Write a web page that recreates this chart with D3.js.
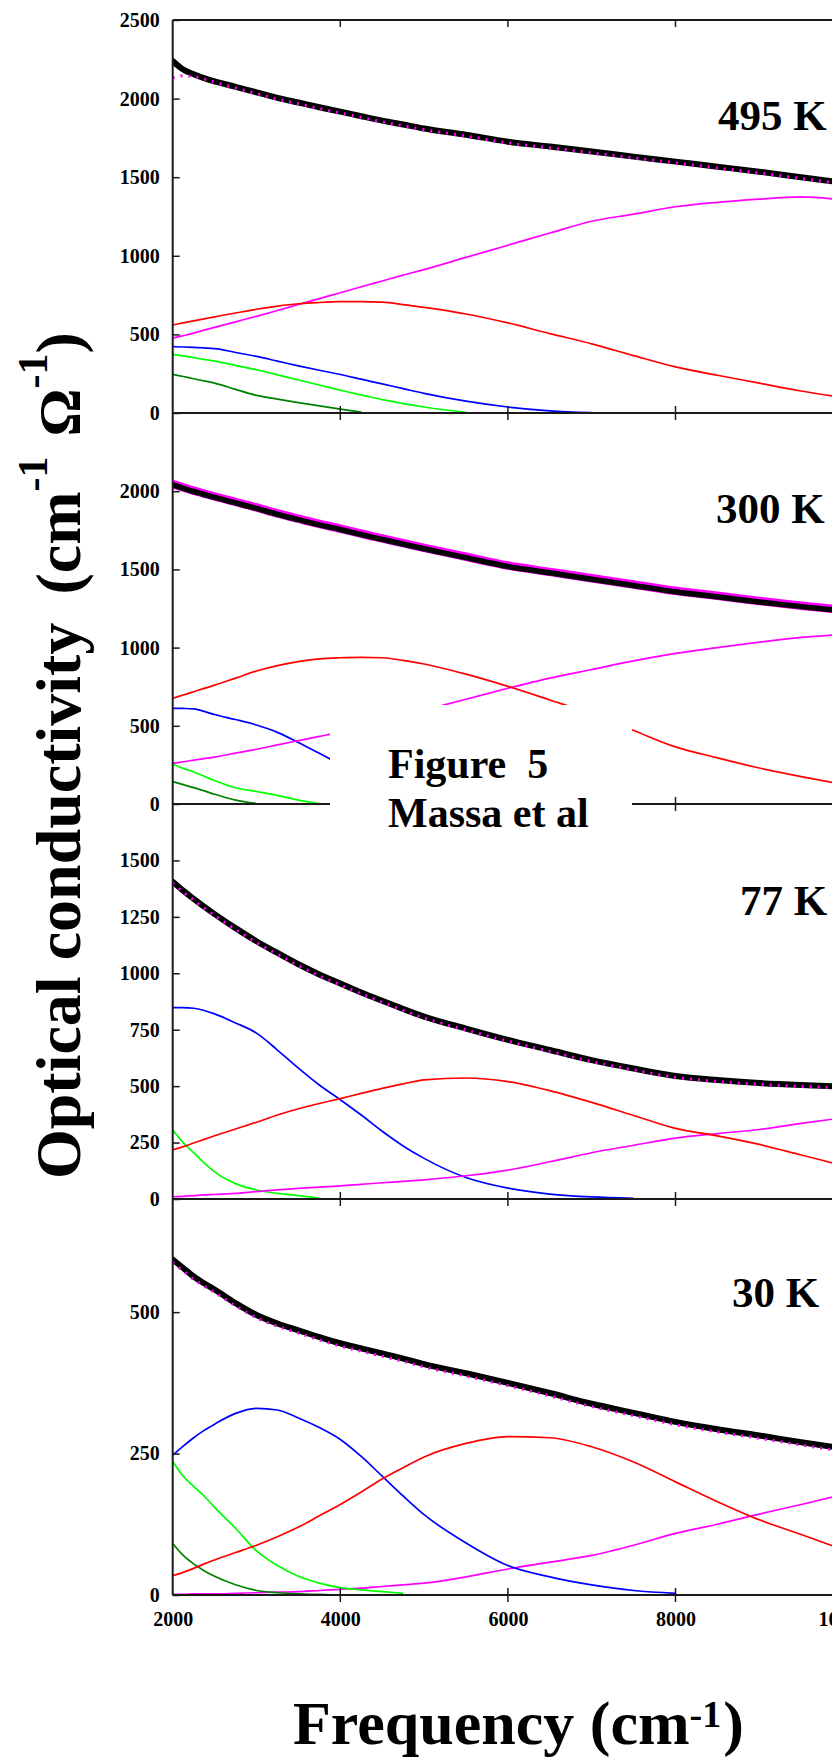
<!DOCTYPE html>
<html>
<head>
<meta charset="utf-8">
<script src="https://cdn.jsdelivr.net/npm/d3@7"></script>
<style>
  html, body { margin: 0; padding: 0; background: #fff; }
  svg { display: block; }
  text { font-family: "Liberation Serif", "Times New Roman", serif; font-weight: bold; fill: #000; }
</style>
</head>
<body>
<svg id="chart" width="832" height="1760"></svg>
<script>
// Frequency grid (cm^-1) shared by every curve; null = component not drawn there
const frequencies = [2000, 2125, 2250, 2375, 2500, 2750, 3000, 3250, 3500, 3750, 4000, 4250, 4500,
                     4750, 5000, 5500, 6000, 6500, 7000, 7500, 8000, 8500, 9000, 9500, 10000];

const temperatures = ["495 K", "300 K", "77 K", "30 K"];
const yMaxima = [2500, 2500, 1750, 700];
const yTickValues = [
  [0, 500, 1000, 1500, 2000, 2500],
  [0, 500, 1000, 1500, 2000],
  [0, 250, 500, 750, 1000, 1250, 1500],
  [0, 250, 500]
];
const xTickValues = [2000, 4000, 6000, 8000, 10000];

// ---- 495 K ----
const measured495 = [2239, 2185, 2155, 2130, 2110, 2075, 2040, 2005, 1975, 1945, 1917, 1888, 1860, 1835, 1810, 1770, 1726, 1695, 1663, 1631, 1599, 1567, 1535, 1500, 1465];
const fit495      = [2131, 2145, 2140, 2125, 2105, 2067, 2032, 1997, 1967, 1937, 1909, 1880, 1852, 1827, 1802, 1762, 1718, 1687, 1655, 1623, 1591, 1559, 1527, 1492, 1457];
const red495      = [560, 573, 586, 599, 612, 636, 660, 680, 695, 703, 708, 709, 705, 690, 672, 630, 573, 505, 440, 365, 293, 240, 190, 140, 98];
const magenta495  = [477, 492, 508, 527, 545, 580, 615, 652, 690, 728, 765, 803, 840, 877, 912, 990, 1067, 1145, 1220, 1265, 1312, 1340, 1360, 1375, 1355];
const blue495     = [422, 420, 417, 414, 410, 385, 360, 330, 300, 272, 245, 215, 185, 155, 125, 75, 38, 14, 2, null, null, null, null, null, null];
const green495    = [373, 363, 352, 341, 330, 303, 275, 243, 210, 178, 145, 115, 85, 60, 38, 4, null, null, null, null, null, null, null, null, null];
const dkgreen495  = [246, 232, 218, 204, 190, 150, 112, 88, 66, 45, 25, 5, null, null, null, null, null, null, null, null, null, null, null, null, null];

// ---- 300 K ----
const measured300 = [2040, 2018, 1998, 1979, 1960, 1925, 1890, 1852, 1818, 1785, 1755, 1722, 1692, 1662, 1632, 1575, 1519, 1478, 1437, 1397, 1357, 1325, 1292, 1262, 1235];
const fit300      = [2046, 2024, 2004, 1985, 1966, 1931, 1896, 1858, 1824, 1791, 1761, 1728, 1698, 1668, 1638, 1581, 1525, 1484, 1443, 1403, 1363, 1331, 1298, 1268, 1241];
const red300      = [676, 697, 718, 739, 760, 805, 850, 885, 910, 928, 935, 938, 935, 918, 895, 830, 752, 665, 575, 470, 365, 295, 230, 175, 125];
const magenta300  = [260, 270, 280, 290, 300, 325, 350, 378, 405, 432, 460, 495, 530, 565, 600, 670, 740, 805, 860, 915, 963, 1000, 1035, 1065, 1085];
const blue300     = [612, 611, 608, 592, 572, 540, 505, 458, 393, 324, 255, 200, 155, 120, 88, 45, 18, 5, 1, null, null, null, null, null, null];
const green300    = [254, 228, 205, 177, 150, 104, 80, 55, 25, 2, null, null, null, null, null, null, null, null, null, null, null, null, null, null, null];
const dkgreen300  = [143, 124, 105, 84, 62, 25, 3, null, null, null, null, null, null, null, null, null, null, null, null, null, null, null, null, null, null];

// ---- 77 K ----
const measured77 = [1406, 1366, 1330, 1295, 1262, 1200, 1142, 1090, 1040, 995, 955, 915, 878, 842, 808, 755, 705, 660, 615, 578, 545, 527, 514, 505, 498];
const fit77      = [1400, 1360, 1324, 1289, 1256, 1194, 1136, 1084, 1034, 989, 949, 909, 872, 836, 802, 749, 699, 654, 609, 572, 539, 521, 508, 499, 492];
const red77      = [217, 232, 248, 264, 280, 310, 340, 372, 400, 423, 445, 468, 490, 510, 528, 536, 520, 480, 428, 370, 313, 280, 242, 195, 148];
const magenta77  = [10, 12, 15, 18, 20, 25, 33, 40, 47, 53, 58, 65, 72, 78, 85, 103, 128, 165, 205, 238, 270, 290, 308, 335, 360];
const blue77     = [848, 848, 845, 835, 820, 780, 735, 660, 580, 505, 440, 372, 300, 235, 180, 95, 48, 22, 9, 3, null, null, null, null, null];
const green77    = [306, 250, 205, 160, 120, 68, 40, 25, 15, 3, null, null, null, null, null, null, null, null, null, null, null, null, null, null, null];
const dkgreen77  = frequencies.map(() => null);

// ---- 30 K ----
const measured30 = [593, 578, 563, 551, 540, 516, 495, 480, 468, 456, 445, 436, 427, 418, 408, 392, 375, 357, 338, 322, 306, 293, 282, 270, 259];
const fit30      = [588, 573, 558, 546, 535, 511, 490, 475, 463, 451, 440, 431, 422, 413, 403, 387, 370, 352, 333, 317, 301, 288, 277, 265, 254];
const red30      = [34, 40, 47, 55, 62, 75, 88, 103, 120, 140, 160, 182, 205, 225, 244, 268, 280, 278, 262, 235, 200, 165, 133, 107, 80];
const magenta30  = [1, 1, 2, 2, 2, 3, 4, 5, 6, 8, 10, 12, 15, 18, 21, 32, 46, 58, 70, 88, 109, 125, 143, 160, 178];
const blue30     = [247, 263, 278, 291, 302, 321, 330, 327, 313, 296, 275, 245, 210, 175, 142, 92, 52, 32, 18, 8, 3, null, null, null, null];
const green30    = [236, 210, 192, 175, 155, 118, 78, 52, 33, 21, 13, 9, 6, 3, null, null, null, null, null, null, null, null, null, null, null];
const dkgreen30  = [91, 70, 55, 43, 33, 18, 8, 4, 2, 1, 0, 0, 0, 0, 0, 0, 0, 0, 0, 0, 0, 0, 0, 0, 0];

const panelSeries = [
  { measured: measured495, fit: fit495, comps: [dkgreen495, green495, blue495, magenta495, red495] },
  { measured: measured300, fit: fit300, comps: [dkgreen300, green300, blue300, magenta300, red300] },
  { measured: measured77,  fit: fit77,  comps: [dkgreen77,  green77,  blue77,  magenta77,  red77] },
  { measured: measured30,  fit: fit30,  comps: [magenta30,  dkgreen30, green30, blue30,   red30] }
];
const compColorsDefault = ["#008000", "#00ff00", "#0000ff", "#ff00ff", "#ff0000"];
const compColorsLow     = ["#ff00ff", "#008000", "#00ff00", "#0000ff", "#ff0000"];

// ---- layout ----
const svg = d3.select("#chart");
const plotLeft = 172.7, plotRight = 1010.7;
const panelBox = [
  { top: 20,  bottom: 413 },
  { top: 413, bottom: 804 },
  { top: 804, bottom: 1199 },
  { top: 1199, bottom: 1595 }
];
const labelPos = [[718, 130], [716, 523], [740, 915], [732, 1307]];
const axisColor = "#1a1a1a";

const x = d3.scaleLinear().domain([2000, 12000]).range([plotLeft, plotRight]);

const defs = svg.append("defs");

panelSeries.forEach((ps, i) => {
  const box = panelBox[i];
  const y = d3.scaleLinear().domain([0, yMaxima[i]]).range([box.bottom, box.top]);
  const g = svg.append("g").attr("class", "panel");

  defs.append("clipPath").attr("id", "clip" + i)
    .append("rect")
    .attr("x", plotLeft).attr("y", box.top + 1)
    .attr("width", plotRight - plotLeft).attr("height", box.bottom - box.top + 1);

  const line = d3.line()
    .defined(d => d[1] != null)
    .x(d => x(d[0]))
    .y(d => y(d[1]))
    .curve(d3.curveMonotoneX);
  const pts = arr => frequencies.map((f, k) => [f, arr[k]]);

  const plot = g.append("g").attr("clip-path", `url(#clip${i})`);
  const colors = i === 3 ? compColorsLow : compColorsDefault;

  ps.comps.forEach((arr, k) => {
    plot.append("path")
      .attr("d", line(pts(arr)))
      .attr("fill", "none")
      .attr("stroke", colors[k])
      .attr("stroke-width", 1.7);
  });

  if (i === 1) {
    // fit drawn as a broad band beneath the measured curve
    plot.append("path").attr("d", line(pts(ps.fit)))
      .attr("fill", "none").attr("stroke", "#ff00ff").attr("stroke-width", 8.5);
    plot.append("path").attr("d", line(pts(ps.measured)))
      .attr("fill", "none").attr("stroke", "#000").attr("stroke-width", 5.5);
  } else {
    plot.append("path").attr("d", line(pts(ps.measured)))
      .attr("fill", "none").attr("stroke", "#000").attr("stroke-width", 6)
      .attr("stroke-linecap", "round");
    plot.append("path").attr("d", line(pts(ps.fit)))
      .attr("fill", "none").attr("stroke", "#ff00ff").attr("stroke-width", 3)
      .attr("stroke-dasharray", "2 6");
  }

  // y axis with inward ticks
  const yAxis = d3.axisLeft(y).tickValues(yTickValues[i])
    .tickSizeInner(-7).tickSizeOuter(0).tickPadding(13)
    .tickFormat(d3.format("d"));
  const ya = g.append("g").attr("transform", `translate(${plotLeft},0)`).call(yAxis);
  ya.select(".domain").remove();
  ya.selectAll(".tick line").attr("stroke", axisColor).attr("stroke-width", 1.5);
  ya.selectAll(".tick text").attr("font-size", 20).attr("fill", "#000")
    .style("font-family", '"Liberation Serif", serif').style("font-weight", "bold");

  // bottom axis line with crossing ticks
  g.append("line")
    .attr("x1", plotLeft).attr("x2", 832)
    .attr("y1", box.bottom).attr("y2", box.bottom)
    .attr("stroke", axisColor).attr("stroke-width", 2);
  g.selectAll(".xt").data(xTickValues.slice(1)).join("line")
    .attr("x1", d => x(d)).attr("x2", d => x(d))
    .attr("y1", box.bottom - 7).attr("y2", box.bottom + 7)
    .attr("stroke", axisColor).attr("stroke-width", 1.5);

  if (i === 0) {
    g.append("line")
      .attr("x1", plotLeft).attr("x2", 832)
      .attr("y1", box.top).attr("y2", box.top)
      .attr("stroke", axisColor).attr("stroke-width", 2);
    g.selectAll(".xtt").data(xTickValues.slice(1)).join("line")
      .attr("x1", d => x(d)).attr("x2", d => x(d))
      .attr("y1", box.top).attr("y2", box.top + 7)
      .attr("stroke", axisColor).attr("stroke-width", 1.5);
  }

  svg.append("text")
    .attr("x", labelPos[i][0]).attr("y", labelPos[i][1])
    .attr("font-size", 43)
    .text(temperatures[i]);
});

// left spine through all panels
svg.append("line")
  .attr("x1", plotLeft).attr("x2", plotLeft)
  .attr("y1", panelBox[0].top).attr("y2", panelBox[3].bottom)
  .attr("stroke", axisColor).attr("stroke-width", 2);

// frequency tick labels under the lowest panel
const xAxis = d3.axisBottom(x).tickValues(xTickValues).tickSize(0).tickPadding(17)
  .tickFormat(d3.format("d"));
const xa = svg.append("g").attr("transform", `translate(0,${panelBox[3].bottom})`).call(xAxis);
xa.select(".domain").remove();
xa.selectAll(".tick text").attr("font-size", 20).attr("fill", "#000")
  .style("font-family", '"Liberation Serif", serif').style("font-weight", "bold");

// caption block
svg.append("rect").attr("x", 330).attr("y", 705).attr("width", 302).attr("height", 135).attr("fill", "#fff");
svg.append("text").attr("x", 388).attr("y", 778).attr("font-size", 42)
  .style("white-space", "pre").text("Figure  5");
svg.append("text").attr("x", 388).attr("y", 827).attr("font-size", 42).text("Massa et al");

// x-axis title: Frequency (cm^-1)
(function () {
  const base = 1744, supBase = 1727;
  let cx = 293;
  const t1 = svg.append("text").attr("x", cx).attr("y", base).attr("font-size", 62).text("Frequency (cm");
  cx += t1.node().getComputedTextLength();
  const t2 = svg.append("text").attr("x", cx).attr("y", supBase).attr("font-size", 38).text("-1");
  cx += t2.node().getComputedTextLength() + 2;
  svg.append("text").attr("x", cx).attr("y", base).attr("font-size", 62).text(")");
})();

// y-axis title: Optical conductivity (cm^-1 Ω^-1), reading upward
(function () {
  const g = svg.append("g").attr("transform", "translate(80,0) rotate(-90)");
  let u = -1179;
  const put = (txt, size, v, gapAfter) => {
    const t = g.append("text").attr("x", u).attr("y", v).attr("font-size", size).text(txt);
    u += t.node().getComputedTextLength() + gapAfter;
  };
  put("Optical conductivity", 64, 0, 28);
  put("(cm", 64, 0, 0);
  put("-1", 42, -33, 20);
  put("\u03A9", 60, 0, 0);
  put("-1", 42, -33, 0);
  put(")", 64, 0, 0);
})();
</script>
</body>
</html>
